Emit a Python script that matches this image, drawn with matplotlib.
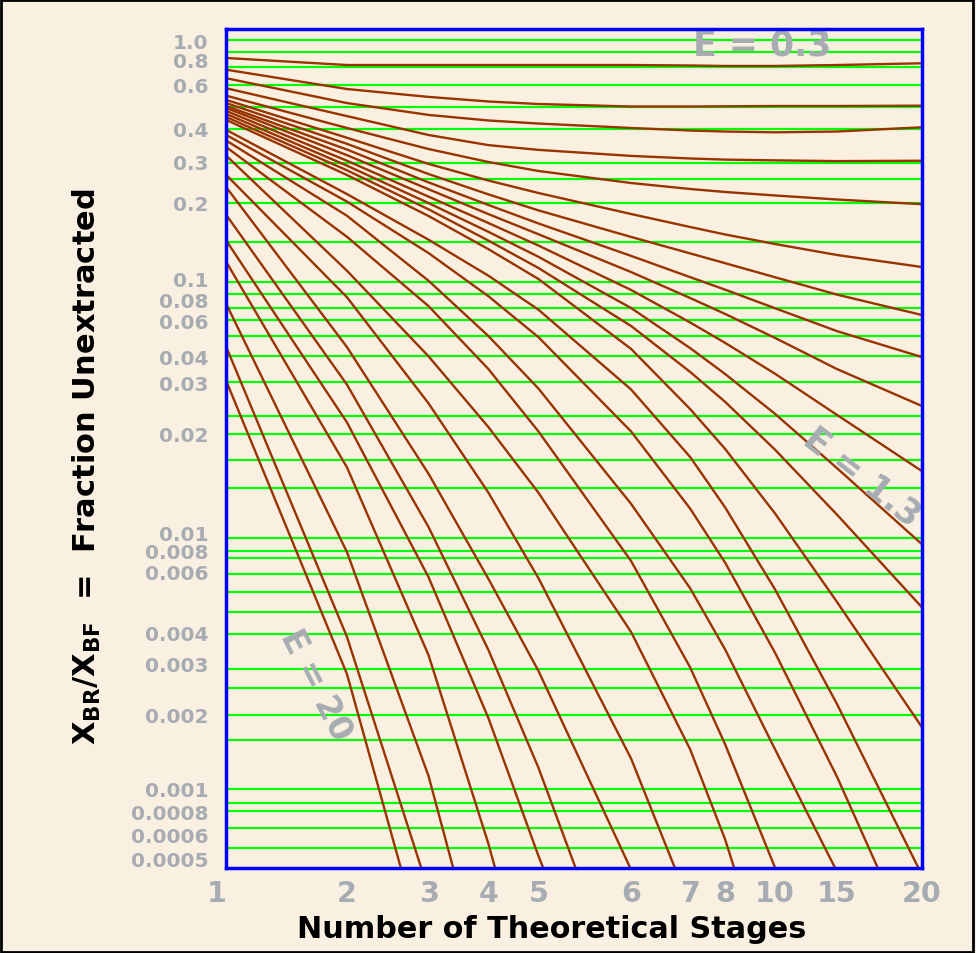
import numpy as np
import matplotlib.pyplot as plt
from matplotlib.patches import Rectangle

# ---- axis layout of the original (both axes are hand-spaced, not true log) ----
stage_ticks = [1, 2, 3, 4, 5, 6, 7, 8, 10, 15, 20]
stage_pos = [0.0, 0.1735, 0.2908, 0.3770, 0.4489, 0.5821, 0.6670, 0.7173, 0.7891, 0.8783, 1.0]

y_scale_vals = [1.143, 1.0, 0.8, 0.6, 0.4, 0.3, 0.2, 0.1, 0.08, 0.06, 0.04, 0.03, 0.02,
                0.01, 0.008, 0.006, 0.004, 0.003, 0.002, 0.001, 0.0008, 0.0006, 0.0005, 0.000466]
y_scale_pos = [1.0, 0.98629, 0.96340, 0.93323, 0.88136, 0.84202, 0.79313, 0.70192, 0.67807,
               0.65303, 0.60892, 0.57911, 0.51711, 0.40026, 0.37820, 0.35376, 0.28103, 0.24288,
               0.18207, 0.09384, 0.06701, 0.03899, 0.01097, 0.0]

frac_ticks = [1.0, 0.8, 0.6, 0.4, 0.3, 0.2, 0.1, 0.08, 0.06, 0.04, 0.03, 0.02, 0.01, 0.008,
              0.006, 0.004, 0.003, 0.002, 0.001, 0.0008, 0.0006, 0.0005]
frac_labels = ['1.0', '0.8', '0.6', '0.4', '0.3', '0.2', '0.1', '0.08', '0.06', '0.04', '0.03',
               '0.02', '0.01', '0.008', '0.006', '0.004', '0.003', '0.002', '0.001', '0.0008',
               '0.0006', '0.0005']

# green horizontal guide lines
grid_values = [1.0, 0.872, 0.734, 0.6, 0.49, 0.4, 0.296, 0.252, 0.2, 0.14, 0.0964, 0.0843,
               0.071, 0.0601, 0.0502, 0.0403, 0.03, 0.023, 0.02, 0.01664, 0.01362, 0.0093,
               0.008, 0.00717, 0.00589, 0.00521, 0.00458, 0.00393, 0.00288, 0.00248, 0.002,
               0.00158, 0.001, 0.00087, 0.0008, 0.000651, 0.000541]

# ---- curves that run out to 20 stages (values at stage_ticks) ----
through_curves = [
    [0.816, 0.753, 0.753, 0.753, 0.753, 0.753, 0.749, 0.745, 0.745, 0.753, 0.768],   # E = 0.3
    [0.714, 0.578, 0.537, 0.5145, 0.5026, 0.491, 0.491, 0.492, 0.4934, 0.4934, 0.4948],
    [0.648, 0.507, 0.454, 0.431, 0.419, 0.402, 0.393, 0.3896, 0.387, 0.3896, 0.4046],
    [0.582, 0.449, 0.378, 0.346, 0.332, 0.315, 0.308, 0.305, 0.303, 0.301, 0.302],
    [0.543, 0.402, 0.3345, 0.2985, 0.2731, 0.2425, 0.2286, 0.2219, 0.2144, 0.206, 0.197],
    [0.522, 0.369, 0.293, 0.2485, 0.2197, 0.1802, 0.1602, 0.1497, 0.1373, 0.1243, 0.1115],
    [0.507, 0.35, 0.265, 0.2167, 0.1862, 0.1464, 0.1261, 0.1154, 0.1016, 0.084, 0.0643],
    [0.493, 0.333, 0.244, 0.1955, 0.1654, 0.1233, 0.1017, 0.0888, 0.0705, 0.0531, 0.04],
    [0.484, 0.317, 0.228, 0.18, 0.15, 0.1065, 0.0809, 0.0652, 0.0493, 0.0348, 0.0249],
    [0.471, 0.302, 0.212, 0.166, 0.1354, 0.0885, 0.0584, 0.0467, 0.033, 0.0232, 0.0154],
    [0.458, 0.288, 0.199, 0.1533, 0.1223, 0.0707, 0.0441, 0.0329, 0.0234, 0.0157, 0.00865],
    [0.445, 0.275, 0.188, 0.1416, 0.1105, 0.0562, 0.0337, 0.0257, 0.0179, 0.0113, 0.00472],
    [0.433, 0.2625, 0.177, 0.131, 0.1, 0.0437, 0.0243, 0.018, 0.0114, 0.00488, 0.00179],
]

# ---- curves that drop out of the bottom; values at the first stage_ticks, then exit stage ----
steep_curves = [
    [0.395, 0.2174, 0.1428, 0.103, 0.0691, 0.0283, 0.017, 0.0119, 0.00531, 0.00218],
    [0.378, 0.2018, 0.1265, 0.0825, 0.0497, 0.0204, 0.0118, 0.00675, 0.00332, 0.00112],
    [0.36, 0.1774, 0.0981, 0.0503, 0.0285, 0.0122, 0.00535, 0.00342, 0.00145],
    [0.34, 0.1466, 0.0726, 0.0348, 0.0204, 0.0069, 0.00292, 0.00152],
    [0.3155, 0.1078, 0.0403, 0.0211, 0.0132, 0.0040, 0.00145, 0.00058],
    [0.2625, 0.0816, 0.0254, 0.0132, 0.00572, 0.00133],
    [0.2325, 0.0446, 0.0151, 0.00569, 0.00284],
    [0.1786, 0.0294, 0.01036, 0.0034, 0.00122],
    [0.1415, 0.0219, 0.00576, 0.00194, 0.00051],
    [0.1167, 0.0158, 0.00325, 0.00056],
    [0.0747, 0.00783, 0.00113],
    [0.0446, 0.00383],
    [0.0303, 0.00277],
]
steep_exit = [19.8, 17.4, 14.83, 10.0, 8.36, 6.74, 5.99, 5.4, 5.05, 4.13, 3.41, 2.91, 2.66]


def interp_ext(x, xp, fp):
    x = np.atleast_1d(np.asarray(x, float))
    y = np.interp(x, xp, fp)
    lo = x < xp[0]
    hi = x > xp[-1]
    y[lo] = fp[0] + (x[lo] - xp[0]) * (fp[1] - fp[0]) / (xp[1] - xp[0])
    y[hi] = fp[-1] + (x[hi] - xp[-1]) * (fp[-1] - fp[-2]) / (xp[-1] - xp[-2])
    return y


sx = np.array(stage_ticks, float)
px = np.array(stage_pos)
ly = np.log10(np.array(y_scale_vals))[::-1]
py = np.array(y_scale_pos)[::-1]


def x_fwd(v):
    return interp_ext(v, sx, px)


def x_inv(p):
    return interp_ext(p, px, sx)


def y_fwd(v):
    v = np.clip(np.asarray(v, float), 1e-12, None)
    return interp_ext(np.log10(v), ly, py)


def y_inv(p):
    return 10 ** interp_ext(p, py, ly)


bg = '#faf0e2'
grey = '#a6acb1'
brown = '#993300'

fig = plt.figure(figsize=(9.76, 9.54), dpi=100, facecolor=bg)
ax = fig.add_axes([226.3 / 976, 1 - 868.7 / 954, 695.4 / 976, 838.7 / 954], facecolor=bg)
ax.set_xscale('function', functions=(x_fwd, x_inv))
ax.set_yscale('function', functions=(y_fwd, y_inv))
ax.set_xlim(1, 20)
y_bottom = y_scale_vals[-1]
ax.set_ylim(y_bottom, y_scale_vals[0])

for g in grid_values:
    ax.axhline(g, color='#00ff00', lw=1.6, zorder=1)

for c in through_curves:
    ax.plot(stage_ticks, c, color=brown, lw=1.7, zorder=2, solid_capstyle='round')

for c, n_end in zip(steep_curves, steep_exit):
    xs = stage_ticks[:len(c)] + [n_end]
    ys = c + [y_bottom]
    ax.plot(xs, ys, color=brown, lw=1.7, zorder=2, solid_capstyle='round')

ax.set_xticks(stage_ticks)
ax.set_xticklabels([str(s) for s in stage_ticks])
ax.set_yticks(frac_ticks)
ax.set_yticklabels(frac_labels)
ax.minorticks_off()
ax.tick_params(axis='x', length=0, pad=8, labelsize=20.5, labelcolor=grey)
ax.tick_params(axis='y', length=0, pad=13, labelsize=14.5, labelcolor=grey)
for t in ax.get_xticklabels() + ax.get_yticklabels():
    t.set_fontweight('bold')
ax.get_xticklabels()[0].set_ha('right')

for s in ax.spines.values():
    s.set_color('#0000ff')
    s.set_linewidth(2.5)
    s.set_zorder(5)

ax.set_xlabel('Number of Theoretical Stages', fontsize=21.8, fontweight='bold')
ax.xaxis.set_label_coords(0.468, -0.073)
ax.xaxis.label.set_va('center')
ax.set_ylabel(r'X$_{\mathbf{BR}}$/X$_{\mathbf{BF}}$  =  Fraction Unextracted',
              fontsize=22, fontweight='bold')
ax.yaxis.set_label_coords(-0.2, 0.479)
ax.yaxis.label.set_va('center')

ax.text(0.77, 0.981, 'E = 0.3', transform=ax.transAxes, fontsize=25, fontweight='bold',
        color=grey, ha='center', va='center', zorder=3)
ax.text(0.9137, 0.4669, 'E = 1.3', transform=ax.transAxes, fontsize=25, fontweight='bold',
        color=grey, ha='center', va='center', rotation=-38, zorder=3)
ax.text(0.129, 0.219, 'E = 20', transform=ax.transAxes, fontsize=24, fontweight='bold',
        color=grey, ha='center', va='center', rotation=-63, zorder=3)

fig.add_artist(Rectangle((0.001, 0.001), 0.996, 0.998, transform=fig.transFigure,
                         fill=False, ec='black', lw=2))

fig.savefig('out.png', dpi=100, facecolor=bg)
